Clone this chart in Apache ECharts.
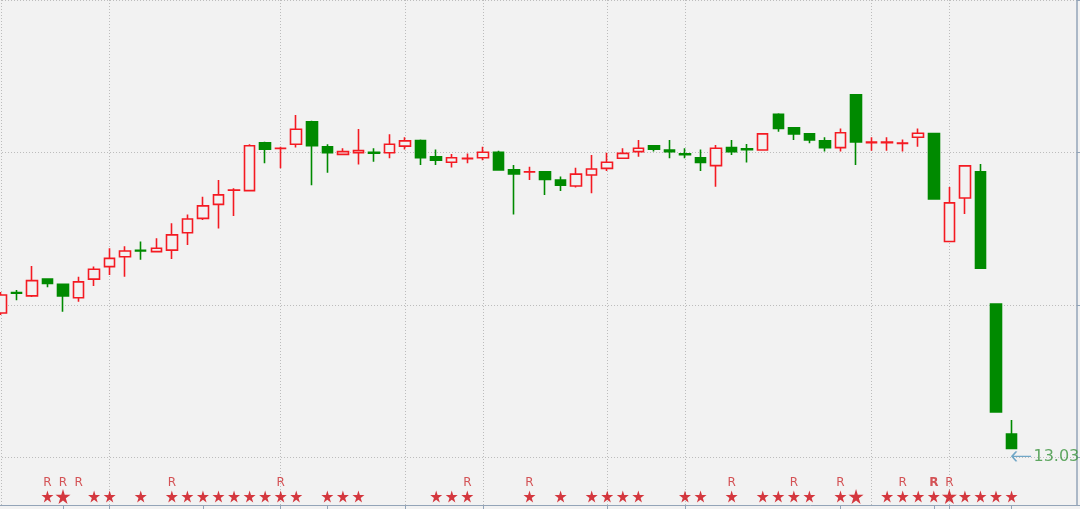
<!DOCTYPE html>
<html>
<head>
<meta charset="utf-8">
<script src="https://cdn.jsdelivr.net/npm/echarts@6/dist/echarts.min.js"></script>
<style>
html,body{margin:0;padding:0;background:#f2f2f2;}
#c{width:1080px;height:509px;}
</style>
</head>
<body>
<div id="c"></div>
<script>
// ---- categories: 66 trading days + 4 empty future slots ----
const categories = ['1','2','3','4','5','6','7','8','9','10','11','12','13','14','15','16','17','18','19','20',
  '21','22','23','24','25','26','27','28','29','30','31','32','33','34','35','36','37','38','39','40',
  '41','42','43','44','45','46','47','48','49','50','51','52','53','54','55','56','57','58','59','60',
  '61','62','63','64','65','66','67','68','69','70'];

// ---- OHLC values ----
const opens = [13.474,13.541,13.530,13.585,13.568,13.524,13.585,13.626,13.658,13.679,
  13.675,13.680,13.737,13.784,13.830,13.876,13.875,14.032,14.013,14.027,
  14.101,14.019,13.994,13.999,14.001,13.999,14.021,14.039,13.986,13.968,
  13.980,13.983,14.001,13.943,13.936,13.937,13.910,13.890,13.926,13.948,
  13.981,14.003,14.022,14.008,13.996,13.983,13.957,14.016,14.012,14.008,
  14.125,14.081,14.061,14.038,14.016,14.189,14.032,14.032,14.030,14.050,
  14.062,13.708,13.851,13.937,13.503,13.077];
const closes = [13.533,13.539,13.580,13.571,13.530,13.576,13.617,13.653,13.677,13.677,
  13.686,13.730,13.782,13.825,13.861,13.877,14.022,14.011,14.014,14.076,
  14.022,13.999,14.003,14.006,13.998,14.027,14.038,13.983,13.975,13.983,
  13.981,14.001,13.943,13.930,13.937,13.912,13.893,13.929,13.946,13.968,
  13.997,14.014,14.011,14.003,13.993,13.967,14.014,14.003,14.009,14.061,
  14.079,14.061,14.041,14.016,14.065,14.035,14.034,14.034,14.031,14.063,
  13.848,13.835,13.956,13.621,13.149,13.030];
const lows = [13.467,13.516,13.526,13.558,13.478,13.511,13.562,13.598,13.593,13.648,
  13.675,13.651,13.697,13.779,13.751,13.792,13.875,13.965,13.948,14.016,
  13.893,13.934,13.992,13.961,13.970,13.981,14.010,13.959,13.959,13.951,
  13.965,13.975,13.943,13.797,13.910,13.861,13.874,13.885,13.866,13.939,
  13.981,13.986,14.003,13.981,13.981,13.939,13.888,13.992,13.967,14.008,
  14.068,14.041,14.030,14.003,14.003,13.959,14.006,14.006,14.003,14.019,
  13.848,13.708,13.798,13.621,13.149,13.030];
const highs = [13.543,13.549,13.628,13.588,13.570,13.593,13.626,13.686,13.693,13.708,
  13.719,13.768,13.797,13.855,13.910,13.883,14.027,14.035,14.019,14.123,
  14.104,14.027,14.014,14.077,14.014,14.060,14.050,14.043,14.010,13.995,
  13.997,14.019,14.006,13.959,13.953,13.939,13.921,13.950,13.992,13.999,
  14.014,14.041,14.025,14.041,14.014,14.010,14.025,14.041,14.028,14.061,
  14.129,14.084,14.061,14.050,14.079,14.189,14.050,14.050,14.043,14.079,
  14.063,13.887,13.959,13.962,13.503,13.123];

// ---- axis ticks / vertical grid lines (category indices) ----
const tickIdx = [4,7,13,18,21,26,31,39,44,54,60,61,65];
const gridIdx = [0,7,18,26,31,39,44,56,61];

// ---- event markers row ----
const starIdx = [3,4,6,7,9,11,12,13,14,15,16,17,18,19,21,22,23,28,29,30,34,36,38,39,40,41,
  44,45,47,49,50,51,52,54,55,57,58,59,60,61,62,63,64,65];
const bigStarIdx = [4,55,61];
const rIdx = [3,4,5,11,18,30,34,47,51,54,58,60,61];
const boldRIdx = [60];

// ---- price range of the visible window ----
const yMax = 14.5;
const yMin = 12.8443;

const UP = '#f41a22', DOWN = '#008a00', BG = '#f2f2f2';
const GRIDC = '#bcbcbc', AXISC = '#93a4b8';
const STAR_PATH = 'path://M50,0L61,35L98,35L68,57L79,91L50,70L21,91L32,57L2,35L39,35Z';
const ARROW_PATH = 'path://M6,0L0,6L6,12M0,6L26,6';

const candleData = opens.map((o, i) => [o, closes[i], lows[i], highs[i]]);
const last = opens.length - 1;

const chart = echarts.init(document.getElementById('c'), null, {renderer: 'canvas'});
chart.setOption({
  animation: false,
  backgroundColor: BG,
  grid: [
    {left: -6.98, right: -1.52, top: 0, bottom: 4, outerBoundsMode: 'none', containLabel: false},
    {left: -6.98, right: -1.52, top: 466, bottom: 4, outerBoundsMode: 'none', containLabel: false}
  ],
  xAxis: [
    {
      type: 'category', data: categories, gridIndex: 0, boundaryGap: true,
      axisLine: {show: true, lineStyle: {color: AXISC, width: 1}},
      axisTick: {show: true, alignWithLabel: true, length: 4,
        interval: (i) => tickIdx.includes(i), lineStyle: {color: AXISC}},
      axisLabel: {show: false},
      splitLine: {show: true, alignWithLabel: true,
        interval: (i) => gridIdx.includes(i),
        lineStyle: {color: GRIDC, type: [1, 2], width: 1}}
    },
    {type: 'category', data: categories, gridIndex: 1, boundaryGap: true, show: false}
  ],
  yAxis: [
    {
      type: 'value', gridIndex: 0, position: 'right', offset: -4.5,
      min: yMin, max: yMax, splitNumber: 3,
      axisLine: {show: true, lineStyle: {color: AXISC, width: 1.5}},
      axisTick: {show: true, length: 5, lineStyle: {color: AXISC}},
      axisLabel: {show: false},
      splitLine: {show: true, showMinLine: false, showMaxLine: true,
        lineStyle: {color: GRIDC, type: [1, 2], width: 1}}
    },
    {type: 'value', gridIndex: 1, min: 0, max: 1, show: false}
  ],
  series: [
    {
      type: 'candlestick', xAxisIndex: 0, yAxisIndex: 0,
      data: candleData, barWidth: 11,
      itemStyle: {color: BG, color0: DOWN, borderColor: UP, borderColor0: DOWN, borderWidth: 1.6}
    },
    {
      type: 'scatter', xAxisIndex: 0, yAxisIndex: 0, z: 5,
      data: [{value: [last, closes[last]]}],
      symbol: ARROW_PATH, symbolSize: [19, 10], symbolOffset: [10, 8],
      itemStyle: {color: 'none', borderColor: '#4f93bb', borderWidth: 1.5},
      label: {show: true, position: 'right', distance: -1,
        formatter: () => closes[last].toFixed(2),
        color: '#3a943c', fontSize: 16, fontFamily: 'DejaVu Sans'}
    },
    {
      type: 'scatter', xAxisIndex: 1, yAxisIndex: 1,
      data: starIdx.map(i => ({value: [i, 0.22], symbolSize: bigStarIdx.includes(i) ? 15 : 12})),
      symbol: STAR_PATH,
      itemStyle: {color: '#cc0810'}
    },
    {
      type: 'scatter', xAxisIndex: 1, yAxisIndex: 1,
      data: rIdx.map(i => ({value: [i, 0.57],
        label: {fontWeight: boldRIdx.includes(i) ? 'bold' : 'normal'}})),
      symbol: 'circle', symbolSize: 1,
      itemStyle: {color: 'rgba(0,0,0,0)'},
      label: {show: true, position: 'inside', formatter: 'R',
        color: '#cc2a2e', fontSize: 12, fontFamily: 'DejaVu Sans'}
    }
  ]
});
</script>
</body>
</html>
